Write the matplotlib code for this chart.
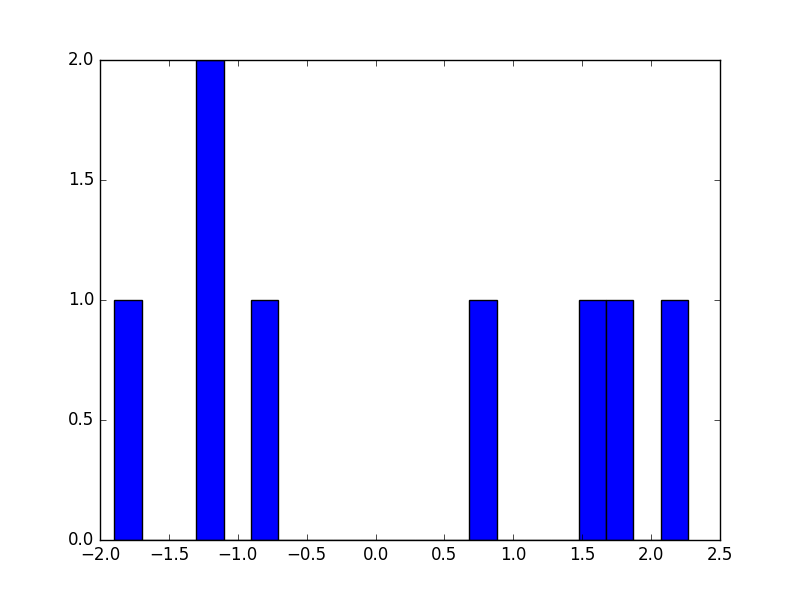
import matplotlib
matplotlib.use('Agg')
import matplotlib.pyplot as plt

# sample values (8 points, 21 bins)
values = [-1.896, -1.25, -1.15, -0.80, 0.78, 1.55, 1.75, 2.268]
nbins = 21


def main():
    plt.style.use('classic')
    fig = plt.figure(figsize=(8, 6), dpi=100, facecolor='white')
    ax = fig.add_subplot(111)
    ax.hist(values, bins=nbins, color='b', edgecolor='k')
    ax.set_xlim(-2.0, 2.5)
    ax.set_ylim(0, 2.0)
    fig.savefig('out.png', dpi=100, facecolor='white')


if __name__ == '__main__':
    main()
